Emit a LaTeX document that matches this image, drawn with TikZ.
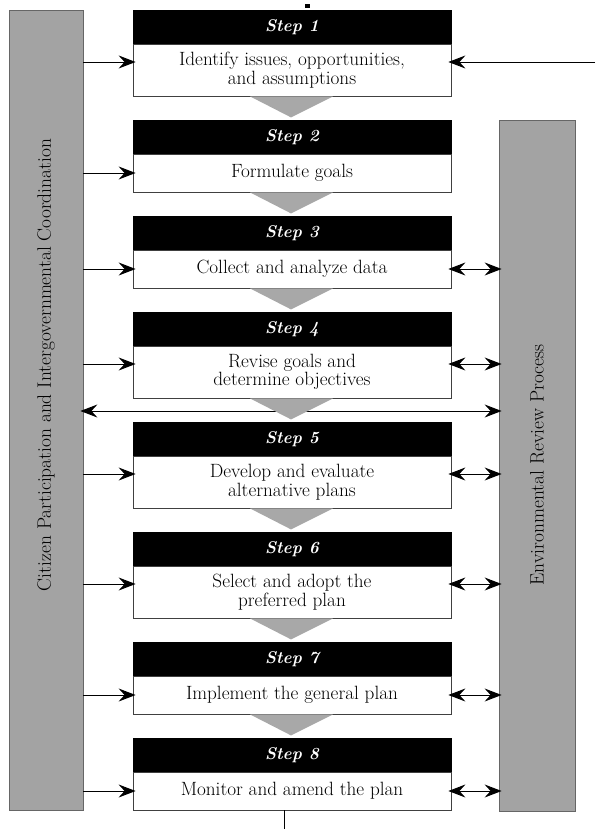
\documentclass[tikz,border=0pt]{standalone}
\usetikzlibrary{arrows.meta}
\begin{document}
\begin{tikzpicture}[x=1pt,y=-1pt,
  hdr/.style={draw=black, fill=black, text=white, minimum width=318pt, minimum height=34pt,
    inner sep=0pt, font=\fontsize{17}{19}\selectfont\bfseries\itshape},
  body/.style={draw=black!75, line width=0.8pt, fill=white, minimum width=318pt, inner sep=0pt,
    align=center, font=\fontsize{19.2}{18.5}\selectfont},
  bar/.style={draw=black!60, line width=0.8pt, fill=black!36, inner sep=0pt},
  sidelbl/.style={rotate=90, font=\fontsize{19.4}{20}\selectfont},
  chev/.style={fill=black!34},
  tip/.tip={Stealth[length=17pt,width=13pt,inset=6pt]},
  arr/.style={-tip, line width=0.9pt, shorten >=-3pt},
  darr/.style={tip-tip, line width=0.9pt, shorten >=-3pt, shorten <=-3pt}]

% page
\fill[white] (0,0) rectangle (595,829);
\useasboundingbox (0,0) rectangle (595,829);

% side bars
\node[bar, minimum width=74pt, minimum height=800pt] (cit) at (46,410) {};
\node[bar, minimum width=76pt, minimum height=691pt] (env) at (537,465.5) {};
\node[sidelbl] (citlbl) at (46,365) {Citizen Participation and Intergovernmental Coordination};
\node[sidelbl] (envlbl) at (537,465) {Environmental Review Process};

% cross link between steps 4 and 5 (drawn under the chevron)
\coordinate (mid) at (292,411);
\draw[darr] (cit.east |- mid) -- (env.west |- mid);

% steps: header bar and body box
\node[hdr]  (h1) at (292,27)  {Step 1};
\node[body, minimum height=52pt] (b1) at (292,70)  {Identify issues, opportunities,\\ and assumptions};
\node[hdr]  (h2) at (292,137) {Step 2};
\node[body, minimum height=38pt] (b2) at (292,173) {Formulate goals};
\node[hdr]  (h3) at (292,233) {Step 3};
\node[body, minimum height=38pt] (b3) at (292,269) {Collect and analyze data};
\node[hdr]  (h4) at (292,329) {Step 4};
\node[body, minimum height=52pt] (b4) at (292,372) {Revise goals and\\ determine objectives};
\node[hdr]  (h5) at (292,439) {Step 5};
\node[body, minimum height=52pt] (b5) at (292,482) {Develop and evaluate\\ alternative plans};
\node[hdr]  (h6) at (292,549) {Step 6};
\node[body, minimum height=52pt] (b6) at (292,592) {Select and adopt the\\ preferred plan};
\node[hdr]  (h7) at (292,659) {Step 7};
\node[body, minimum height=38pt] (b7) at (292,695) {Implement the general plan};
\node[hdr]  (h8) at (292,755) {Step 8};
\node[body, minimum height=38pt] (b8) at (292,791) {Monitor and amend the plan};

% downward chevrons between steps
\foreach \b in {b1,b2,b3,b4,b5,b6,b7}
  \fill[chev] ([xshift=-42pt]\b.south) -- ([xshift=41pt]\b.south)
    -- ([xshift=-1pt,yshift=-21pt]\b.south) -- cycle;

% connection points: raised to the first text line on two-line boxes
\foreach \b in {b2,b3,b7,b8}{
  \coordinate (\b in) at (\b.west);
  \coordinate (\b out) at (\b.east);}
\foreach \b in {b1,b4,b5,b6}{
  \coordinate (\b in) at ([yshift=8pt]\b.west);
  \coordinate (\b out) at ([yshift=8pt]\b.east);}

% inputs from citizen participation
\foreach \b in {b1,b2,b3,b4,b5,b6,b7,b8}
  \draw[arr] (cit.east |- \b in) -- (\b in);

% exchanges with environmental review
\foreach \b in {b3,b4,b5,b6,b7,b8}
  \draw[darr] (\b out) -- (env.west |- \b out);

% outside input to step 1
\coordinate (ext) at (595,62);
\draw[arr] (ext) -- (b1.east |- ext);

% stubs at top and bottom
\fill (305,4) rectangle (310,8);
\coordinate (tail) at (284,829);
\draw[line width=0.8pt] (b8.south -| tail) -- (tail);
\end{tikzpicture}
\end{document}
